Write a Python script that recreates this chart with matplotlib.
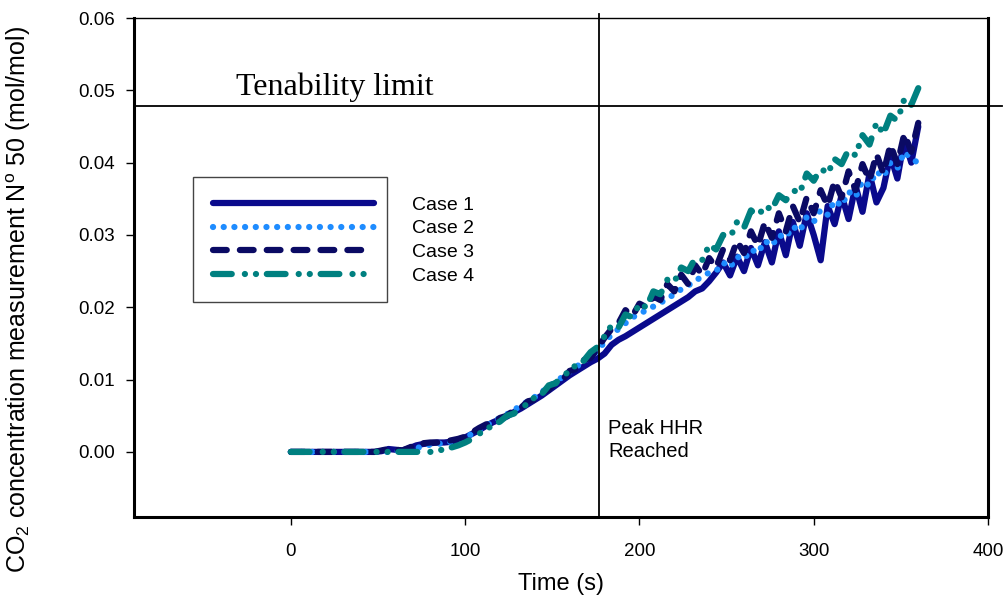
import matplotlib
matplotlib.use("Agg")
import matplotlib.pyplot as plt
import numpy as np
from matplotlib.patches import Rectangle

plt.rcParams['font.family'] = ['Liberation Sans', 'DejaVu Sans']
plt.rcParams['mathtext.fontset'] = 'custom'
plt.rcParams['mathtext.rm'] = 'Liberation Sans'
plt.rcParams['mathtext.it'] = 'Liberation Sans:italic'

# time in seconds, one sample every 4 s
time = np.arange(0, 361, 4)

case1 = [0, 0, 0, 0, 0, 0, 0, 0, 0, 0, 0, 0, 0,
         0.0001, 0.0004, 0.0003, 0.0002, 0.0005, 0.0009, 0.0011, 0.0012, 0.0013, 0.0013,
         0.0014, 0.0017, 0.0020, 0.0025, 0.0030, 0.0036, 0.0041, 0.0045, 0.0049, 0.0055,
         0.0060, 0.0066, 0.0072, 0.0078, 0.0085, 0.0092, 0.0099, 0.0106, 0.0112, 0.0118,
         0.0124, 0.0129, 0.0136, 0.0148, 0.0155, 0.0160, 0.0166, 0.0172, 0.0178, 0.0184,
         0.0190, 0.0196, 0.0202, 0.0208, 0.0214, 0.0222, 0.0226, 0.0236,
         0.0248, 0.0262, 0.0244, 0.0270, 0.0250, 0.0282, 0.0258, 0.0290, 0.0262, 0.0305,
         0.0272, 0.0318, 0.0285, 0.0330, 0.0300, 0.0265, 0.0340, 0.0315, 0.0355, 0.0322,
         0.0368, 0.0332, 0.0385, 0.0345, 0.0365, 0.0410, 0.0378, 0.0432, 0.0400, 0.0450]

case2 = [0, 0, 0, 0, 0, 0, 0, 0, 0, 0, 0, 0, 0, 0, 0,
         0.0001, 0.0002, 0.0003, 0.0005, 0.0008, 0.0010, 0.0011, 0.0012, 0.0014, 0.0017,
         0.0020, 0.0025, 0.0030, 0.0036, 0.0042, 0.0047, 0.0052, 0.0058, 0.0064, 0.0070,
         0.0076, 0.0083, 0.0090, 0.0097, 0.0104, 0.0111, 0.0118, 0.0125, 0.0132, 0.0140,
         0.0152, 0.0162, 0.0170, 0.0178, 0.0186, 0.0191, 0.0196, 0.0201, 0.0206, 0.0212,
         0.0218, 0.0225, 0.0230, 0.0237, 0.0242, 0.0248, 0.0250, 0.0262, 0.0255, 0.0270,
         0.0266, 0.0280, 0.0275, 0.0292, 0.0285, 0.0300, 0.0296, 0.0312, 0.0305, 0.0325,
         0.0318, 0.0335, 0.0328, 0.0348, 0.0340, 0.0360, 0.0352, 0.0375, 0.0368, 0.0388,
         0.0380, 0.0400, 0.0392, 0.0415, 0.0405, 0.0400]

case3 = [0, 0, 0, 0, 0, 0, 0, 0, 0, 0, 0, 0, 0,
         0.0002, 0.0004, 0.0003, 0.0002, 0.0006, 0.0010, 0.0012, 0.0013, 0.0013, 0.0014,
         0.0016, 0.0018, 0.0021, 0.0027, 0.0033, 0.0038, 0.0040, 0.0047, 0.0050, 0.0058,
         0.0061, 0.0070, 0.0072, 0.0082, 0.0086, 0.0097, 0.0100, 0.0112, 0.0115, 0.0127,
         0.0130, 0.0143, 0.0158, 0.0170, 0.0178, 0.0196, 0.0188, 0.0205, 0.0200, 0.0215,
         0.0210, 0.0232, 0.0222, 0.0245, 0.0232, 0.0258, 0.0245, 0.0268, 0.0255, 0.0280,
         0.0265, 0.0292, 0.0275, 0.0305, 0.0285, 0.0318, 0.0296, 0.0330, 0.0305, 0.0340,
         0.0318, 0.0352, 0.0330, 0.0362, 0.0340, 0.0375, 0.0352, 0.0388, 0.0362, 0.0398,
         0.0375, 0.0412, 0.0385, 0.0425, 0.0398, 0.0440, 0.0415, 0.0455]

case4 = [0, 0, 0, 0, 0, 0, 0, 0, 0, 0, 0, 0, 0, 0, 0, 0, 0, 0, 0, 0, 0,
         0.0001, 0.0004, 0.0006, 0.0009, 0.0013, 0.0018, 0.0025, 0.0031, 0.0037, 0.0042,
         0.0050, 0.0053, 0.0062, 0.0066, 0.0076, 0.0080, 0.0092, 0.0095, 0.0107, 0.0110,
         0.0122, 0.0126, 0.0138, 0.0145,
         0.0160, 0.0175, 0.0172, 0.0190, 0.0186, 0.0205, 0.0200, 0.0222, 0.0218, 0.0238,
         0.0235, 0.0255, 0.0250, 0.0268, 0.0265, 0.0286, 0.0280, 0.0300, 0.0296, 0.0318,
         0.0310, 0.0334, 0.0326, 0.0340, 0.0335, 0.0355, 0.0348, 0.0362, 0.0358, 0.0385,
         0.0375, 0.0392, 0.0385, 0.0405, 0.0398, 0.0418, 0.0410, 0.0438, 0.0425, 0.0455,
         0.0440, 0.0465, 0.0458, 0.0488, 0.0480, 0.0503]

labels = ['Case 1', 'Case 2', 'Case 3', 'Case 4']
colors = ['#0a0a8c', '#1e8cff', '#0a0a64', '#008080']
styles = ['-', (0, (0.01, 1.7)), (0, (2.2, 2.1)), (0, (3.0, 2.1, 0.01, 1.76, 0.01, 1.73))]

tenability = 0.0478
peak_time = 177

fig = plt.figure(figsize=(10.06, 6.01), dpi=100)
ax = fig.add_axes([0.1332, 0.1398, 0.8489, 0.8302])

handles = []
for y, lab, c, ls in zip([case1, case2, case3, case4], labels, colors, styles):
    h, = ax.plot(time, y, color=c, linestyle=ls, lw=4.5,
                 solid_capstyle='round', dash_capstyle='round',
                 solid_joinstyle='round', label=lab)
    handles.append(h)

ax.set_xlim(-90, 400)
ax.set_ylim(-0.009, 0.06)

# reference lines run a little past the frame
ax.plot([-90, 408], [tenability, tenability], color='black', lw=1.3, clip_on=False)
ax.plot([peak_time, peak_time], [-0.009, 0.0605], color='black', lw=1.3, clip_on=False)

ax.text(-31.5, 0.0493, 'Tenability limit', family=['Liberation Serif', 'DejaVu Serif'],
        fontsize=23, ha='left', va='baseline')
ax.text(182.2, 0.0046, 'Peak HHR\nReached', fontsize=14.5, ha='left', va='top',
        linespacing=1.3)

ax.set_xticks([0, 100, 200, 300, 400])
ax.set_yticks([0.0, 0.01, 0.02, 0.03, 0.04, 0.05, 0.06])
ax.set_yticklabels(['%.2f' % v for v in ax.get_yticks()])
ax.tick_params(direction='out', length=6, width=1, labelsize=13.5, pad=8)
ax.tick_params(axis='x', pad=13)

for side in ['left', 'bottom', 'right']:
    ax.spines[side].set_linewidth(2.2)
ax.spines['top'].set_linewidth(1.0)

ax.set_xlabel('Time (s)', fontsize=17, labelpad=9)
ax.set_ylabel(r'CO$_2$ concentration measurement N$^{\rm o}$ 50 (mol/mol)',
              fontsize=18)
ax.yaxis.set_label_coords(-0.118, 0.435)

# legend box; labels sit outside the frame as in the original
ax.add_patch(Rectangle((0.069, 0.431), 0.227, 0.250, transform=ax.transAxes,
                       fill=False, edgecolor='#444444', lw=1.0))
leg = ax.legend(handles=handles, loc='upper left', bbox_to_anchor=(0.092, 0.643),
                frameon=False, fontsize=14, handlelength=8.3, handletextpad=1.96,
                labelspacing=0.31, borderpad=0, borderaxespad=0)

fig.savefig('out.png', dpi=100)
